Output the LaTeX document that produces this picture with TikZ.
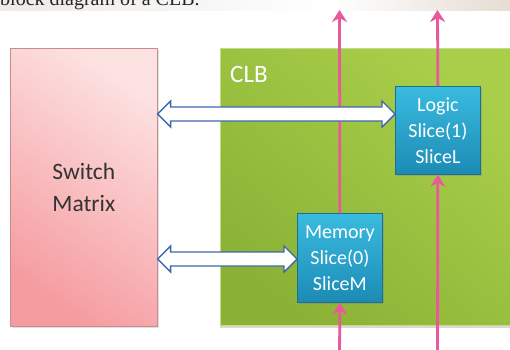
\documentclass[tikz,border=0pt]{standalone}
\usepackage{fontspec}
\setmainfont{Carlito}
\newfontfamily\capfont{Liberation Serif}
\usetikzlibrary{arrows.meta,calc,shadows}

\definecolor{pinklt}{HTML}{FDE2E2}
\definecolor{pinkdk}{HTML}{F59CA0}
\definecolor{pinkedge}{HTML}{C98C8C}
\definecolor{greenlt}{HTML}{A9CF4A}
\definecolor{greendk}{HTML}{8BB236}
\definecolor{bluelt}{HTML}{3ABBE0}
\definecolor{bluedk}{HTML}{1C8BB4}
\definecolor{blueedge}{HTML}{1D6F92}
\definecolor{busblue}{HTML}{3F67AE}
\definecolor{wire}{HTML}{E9589B}
\definecolor{stripL}{HTML}{EEEAE6}
\definecolor{stripR}{HTML}{E6DCD3}

\tikzset{
  smbox/.style={draw=pinkedge, line width=0.6pt,
    top color=pinklt, bottom color=pinkdk, shading angle=-35,
    drop shadow={opacity=0.25, shadow xshift=1.5pt, shadow yshift=-1.5pt},
    align=center, text=black!80, font=\fontsize{23.5}{32}\selectfont},
  clbbox/.style={draw=greenlt!70!white, line width=0.8pt,
    top color=greenlt, bottom color=greendk, shading angle=-40,
    drop shadow={opacity=0.3, shadow xshift=0pt, shadow yshift=-2.5pt}},
  clbtext/.style={text=white, font=\fontsize{25}{28}\selectfont},
  slicebox/.style={draw=blueedge, line width=0.7pt,
    top color=bluelt, bottom color=bluedk,
    drop shadow={opacity=0.35, shadow xshift=1.5pt, shadow yshift=-1.5pt},
    align=center, text=white, inner sep=2pt,
    font=\fontsize{20}{26}\selectfont},
  blockarrow/.style={draw=busblue, line width=1.4pt, fill=white, line join=miter},
  wireline/.style={draw=wire, line width=2.8pt,
    -{Stealth[length=12pt, width=15pt, inset=4pt]}}
}

% hollow two-headed bus arrow between two points on one horizontal line
\newcommand\dblarrow[2]{%
  \draw[blockarrow] (#1) -- ++(13,-13) -- ++(0,6) -- ($(#2)+(-13,-7)$)
    -- ++(0,-6) -- (#2) -- ++(-13,13) -- ++(0,-6) -- ($(#1)+(13,7)$)
    -- ++(0,6) -- cycle;}

\begin{document}
\begin{tikzpicture}[x=1pt, y=-1pt]
\clip (0,0) rectangle (510,349);
\fill[white] (0,0) rectangle (510,349);

% caption strip along the top edge
\begin{scope}
  \clip (0,0) rectangle (510,10);
  \shade[left color=stripL, right color=white] (0,0) rectangle (330,10);
  \shade[left color=white, right color=stripR] (330,0) rectangle (510,10);
  \node[anchor=base west, inner sep=0pt, text=black!85,
        font=\capfont\fontsize{20}{24}\selectfont] (caption) at (0,5)
        {block diagram of a CLB.};
\end{scope}

% switch matrix
\node[smbox, anchor=north west, minimum width=147pt, minimum height=278pt]
  (sm) at (10,48) {Switch\\Matrix};

% configurable logic block
\node[clbbox, anchor=north west, minimum width=300pt, minimum height=277pt]
  (clb) at (220,48) {};
\node[clbtext, anchor=base west, inner sep=0pt] (clblabel) at (230,82) {CLB};

% end points of the vertical routing wires
\coordinate (mtop) at (339.5,10);
\coordinate (mbot) at (339.5,360);
\coordinate (ltop) at (437.5,10);
\coordinate (lbot) at (437.5,360);

% slices
\node[slicebox, anchor=north west, minimum width=85pt, minimum height=88pt]
  (logic) at (395,86) {Logic\\Slice(1)\\SliceL};
\node[slicebox, anchor=north west, minimum width=85pt, minimum height=89pt]
  (mem) at (297,213) {Memory\\Slice(0)\\SliceM};

\draw[wireline] (mbot) -- (mem.south);
\draw[wireline] (mem.north) -- (mtop);
\draw[wireline] (lbot) -- (logic.south);
\draw[wireline] (logic.north) -- (ltop);

% buses between the switch matrix and the slices
\coordinate (b1l) at (sm.east |- 0,114);
\coordinate (b1r) at (logic.west |- 0,114);
\coordinate (b2l) at (sm.east |- 0,259);
\coordinate (b2r) at (mem.west |- 0,259);
\dblarrow{b1l}{b1r}
\dblarrow{b2l}{b2r}
\end{tikzpicture}
\end{document}
